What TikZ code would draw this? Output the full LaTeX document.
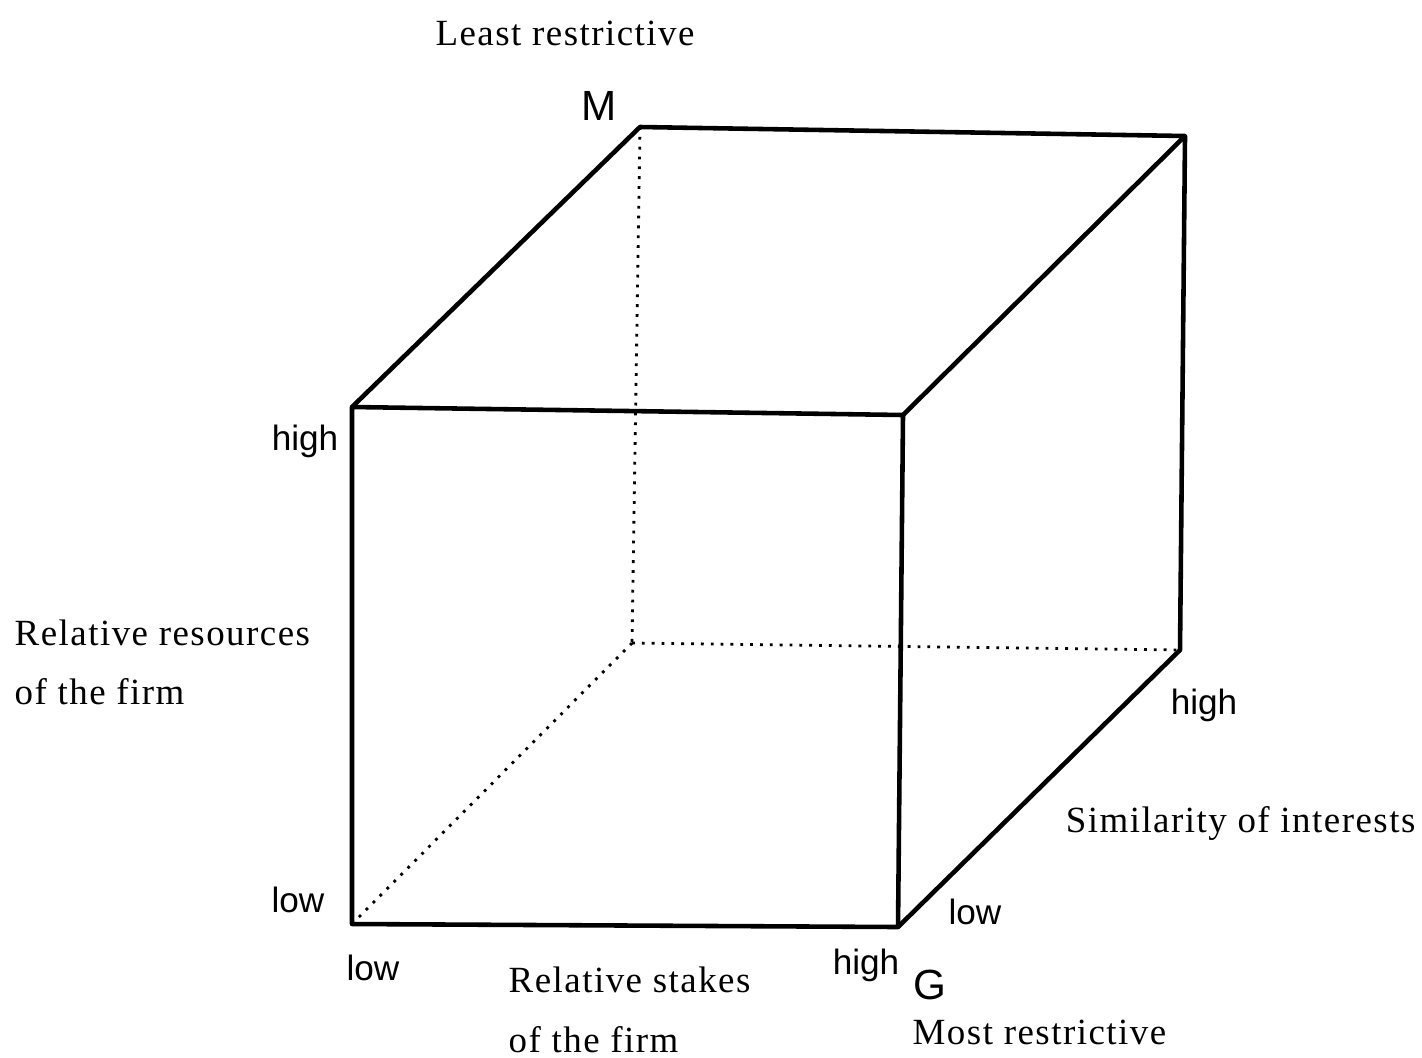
\documentclass[tikz,border=0pt]{standalone}
\usepackage{fontspec}
\setmainfont{Liberation Serif}
\setsansfont{Liberation Sans}
\usetikzlibrary{positioning}

\begin{document}
\begin{tikzpicture}[x=0.01cm,y=-0.01cm,
    edge/.style={line width=1.3pt,line join=round},
    hidden/.style={line width=0.8pt,dotted},
    axis/.style={font=\fontsize{10.5}{13}\selectfont\addfontfeatures{LetterSpace=4},anchor=west,inner sep=0pt},
    tick/.style={font=\sffamily\fontsize{10}{12}\selectfont,inner sep=0pt},
    corner/.style={font=\sffamily\fontsize{12}{14}\selectfont,inner sep=0pt}]
  \useasboundingbox (0,0) rectangle (1422,1057);
  % cube corners
  \coordinate (ftl) at (352,407);
  \coordinate (ftr) at (903,415);
  \coordinate (fbr) at (898,927);
  \coordinate (fbl) at (352,924);
  \coordinate (btl) at (640,127);
  \coordinate (btr) at (1185,136);
  \coordinate (bbr) at (1180,650);
  \coordinate (bbl) at (632,643);
  % visible edges
  \draw[edge] (ftl) -- (ftr) -- (fbr) -- (fbl) -- cycle;
  \draw[edge] (ftl) -- (btl) -- (btr) -- (ftr);
  \draw[edge] (btr) -- (bbr) -- (fbr);
  % hidden edges
  \draw[hidden] (btl) -- (bbl);
  \draw[hidden] (bbl) -- (bbr);
  \draw[hidden] (bbl) -- (fbl);
  % labels
  \node[axis,anchor=center] (least) at (565,33) {Least restrictive};
  \node[corner] (m) at (599,106) {M};
  \node[tick] (reshigh) at (305,441) {high};
  \node[tick] (reslow) at (298,900) {low};
  \node[axis] (res1) at (14,633) {Relative resources};
  \node[axis] (res2) at (14,692) {of the firm};
  \node[tick] (stklow) at (373,968) {low};
  \node[tick] (stkhigh) at (866,965) {high};
  \node[axis] (stk1) at (508,980) {Relative stakes};
  \node[axis] (stk2) at (508,1040) {of the firm};
  \node[corner] (g) at (930,985) {G};
  \node[axis] (most) at (912,1032) {Most restrictive};
  \node[tick] (simhigh) at (1204,705) {high};
  \node[tick] (simlow) at (975,912) {low};
  \node[axis,anchor=east] (sim) at (1416,823) {Similarity of interests};
\end{tikzpicture}
\end{document}
